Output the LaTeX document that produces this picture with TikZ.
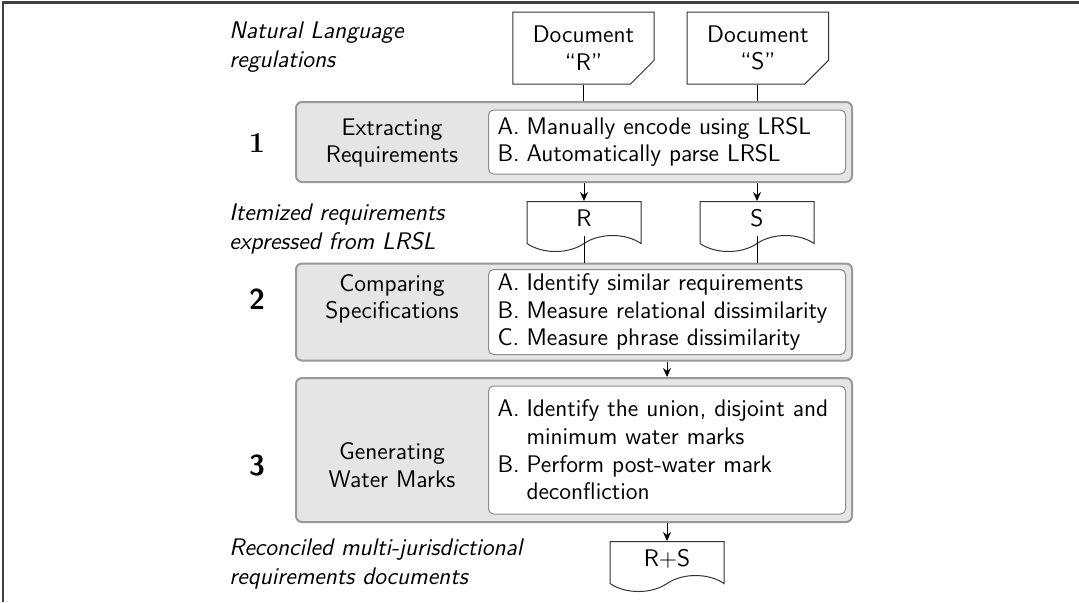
\documentclass[tikz,border=0pt]{standalone}
\usepackage{tikz}
\usetikzlibrary{positioning,shapes.misc,shapes.symbols,arrows.meta}

\newcommand{\itm}[1]{\makebox[14.5pt][l]{#1}}

\begin{document}
\begin{tikzpicture}[
    x=0.5pt, y=-0.5pt,
    font=\sffamily\fontsize{12}{13.8}\selectfont,
    stage/.style={
        rectangle, rounded corners=3pt,
        draw=black!40, line width=1pt, fill=black!10,
        minimum width=278pt, inner sep=0pt
    },
    items/.style={
        rectangle, rounded corners=2.5pt,
        draw=black!45, line width=0.5pt, fill=white,
        text width=169.5pt, inner xsep=4.5pt, inner ysep=2pt,
        align=left, anchor=east
    },
    title/.style={align=center},
    num/.style={font=\Large\bfseries},
    note/.style={align=left, anchor=west, inner xsep=0pt,
        font=\sffamily\itshape\fontsize{12}{14.5}\selectfont},
    srcdoc/.style={
        chamfered rectangle, chamfered rectangle corners=south east,
        chamfered rectangle xsep=9pt, draw=black!80, line width=0.5pt,
        minimum width=70.5pt, minimum height=36pt, align=center, inner sep=1pt
    },
    reqdoc/.style={
        tape, tape bend top=none, tape bend height=8pt,
        draw=black!80, line width=0.5pt,
        minimum width=57pt, minimum height=25pt, anchor=north
    },
    arrow/.style={-{Stealth[length=4.5pt,width=4pt]}, line width=0.5pt},
    link/.style={line width=0.5pt}
]

% --- Khung trang ---
\useasboundingbox (0,0) rectangle (1079,602);
\draw[line width=1.1pt, black!75] (3,602) -- (3,2.5) -- (1079,2.5);

% --- Tài liệu gốc ---
\node[srcdoc] (docR) at (583.5,48) {Document\\``R''};
\node[srcdoc, right=16pt of docR] (docS) {Document\\``S''};
\node[note] (natural) at (229,47) {Natural Language\\regulations};

% --- Bước 1 ---
\node[stage, minimum height=40pt] (stage1) at (574,142) {};
\node[items, minimum height=32pt] (list1) at ([xshift=-3.5pt]stage1.east)
    {\itm{A.}Manually encode using LRSL\\
     \itm{B.}Automatically parse LRSL};
\node[title] (title1) at (392,143) {Extracting\\Requirements};
\node[num] (num1) at (257,143) {1};

% --- Yêu cầu đã tách ---
\node[reqdoc] (reqR) at (584,201) {R};
\node[reqdoc] (reqS) at (757,201) {S};
\node[note] (itemized) at (229,229) {Itemized requirements\\expressed from LRSL};

% --- Bước 2 ---
\node[stage, minimum height=48.5pt] (stage2) at (574,312) {};
\node[items, minimum height=41pt] (list2) at ([xshift=-3.5pt]stage2.east)
    {\itm{A.}Identify similar requirements\\
     \itm{B.}Measure relational dissimilarity\\
     \itm{C.}Measure phrase dissimilarity};
\node[title] (title2) at (392,299) {Comparing\\Specifications};
\node[num] (num2) at (257,299) {\sffamily 2};

% --- Bước 3 ---
\node[stage, minimum height=72pt] (stage3) at (574,450) {};
\node[items, minimum height=64pt] (list3) at ([xshift=-3.5pt]stage3.east)
    {\itm{A.}Identify the union, disjoint and\\
     \itm{}minimum water marks\\
     \itm{B.}Perform post-water mark\\
     \itm{}deconfliction};
\node[title] (title3) at (392,465) {Generating\\Water Marks};
\node[num] (num3) at (257,465) {\sffamily 3};

% --- Kết quả ---
\node[reqdoc] (merged) at ([yshift=-9pt]stage3.south -| list3.south) {R+S};
\node[note] (reconciled) at (229,564) {Reconciled multi-jurisdictional\\requirements documents};

% --- Mũi tên ---
\draw[link] (docR.south) -- (docR.south |- stage1.north);
\draw[link] (docS.south) -- (docS.south |- stage1.north);
\draw[arrow] (reqR.north |- stage1.south) -- (reqR.north);
\draw[arrow] (reqS.north |- stage1.south) -- (reqS.north);
\draw[link] (reqR.south) -- (reqR.south |- stage2.north);
\draw[link] (reqS.south) -- (reqS.south |- stage2.north);
\draw[arrow] (list2.south |- stage2.south) -- (list2.south |- stage3.north);
\draw[arrow] (merged.north |- stage3.south) -- (merged.north);

\end{tikzpicture}
\end{document}
